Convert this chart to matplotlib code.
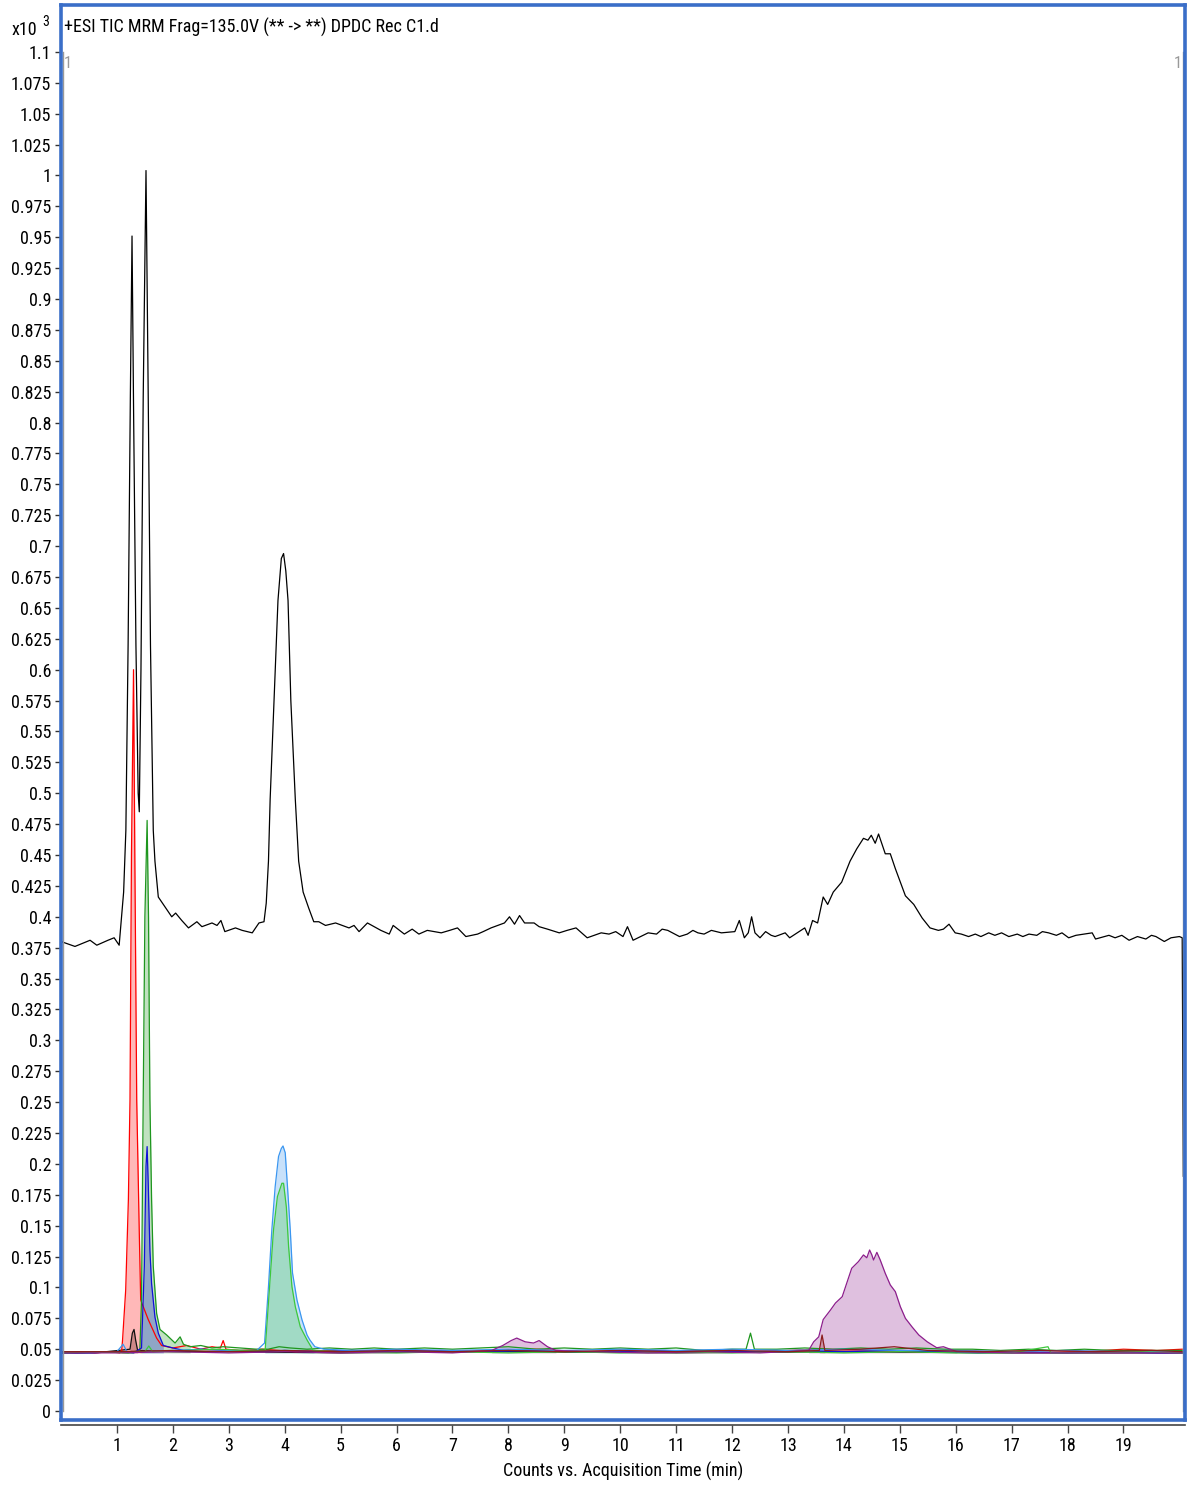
import numpy as np
import matplotlib.pyplot as plt

plt.rcParams['font.family'] = ['Liberation Sans Narrow', 'Arial Narrow', 'Roboto Condensed',
                               'Archivo Narrow', 'DejaVu Sans']

# TIC (x10^3 counts) vs acquisition time (min)
tic = [(0, 0.380), (0.25, 0.376), (0.52, 0.381), (0.64, 0.377), (0.84, 0.381), (0.95, 0.383),
       (1.04, 0.377), (1.12, 0.420), (1.16, 0.470), (1.20, 0.620), (1.24, 0.820), (1.27, 0.951),
       (1.30, 0.800), (1.34, 0.620), (1.38, 0.500), (1.40, 0.485), (1.43, 0.600), (1.47, 0.820),
       (1.52, 1.004), (1.56, 0.820), (1.60, 0.620), (1.65, 0.470), (1.68, 0.445), (1.74, 0.416),
       (1.86, 0.408), (1.98, 0.400), (2.05, 0.403), (2.16, 0.397), (2.28, 0.391), (2.43, 0.396),
       (2.52, 0.392), (2.70, 0.395), (2.79, 0.393), (2.86, 0.397), (2.93, 0.388), (3.12, 0.391),
       (3.24, 0.389), (3.42, 0.387), (3.54, 0.395), (3.63, 0.396), (3.67, 0.411), (3.71, 0.445),
       (3.74, 0.495), (3.81, 0.575), (3.88, 0.656), (3.94, 0.690), (3.98, 0.694), (4.02, 0.680),
       (4.06, 0.656), (4.11, 0.575), (4.19, 0.495), (4.25, 0.445), (4.33, 0.420), (4.43, 0.407),
       (4.52, 0.396), (4.61, 0.396), (4.73, 0.393), (4.91, 0.395), (5.15, 0.391), (5.24, 0.393),
       (5.33, 0.388), (5.48, 0.395), (5.60, 0.392), (5.72, 0.389), (5.87, 0.386), (5.94, 0.393),
       (6.14, 0.386), (6.28, 0.390), (6.40, 0.386), (6.55, 0.389), (6.67, 0.388), (6.80, 0.387),
       (6.95, 0.389), (7.09, 0.391), (7.24, 0.384), (7.45, 0.386), (7.55, 0.388), (7.69, 0.391),
       (7.93, 0.395), (8.02, 0.400), (8.11, 0.394), (8.20, 0.401), (8.29, 0.395), (8.46, 0.395),
       (8.55, 0.392), (8.70, 0.390), (8.91, 0.387), (9.05, 0.389), (9.21, 0.391), (9.41, 0.383),
       (9.66, 0.387), (9.80, 0.386), (9.92, 0.388), (10.05, 0.384), (10.13, 0.392), (10.23, 0.381),
       (10.50, 0.387), (10.65, 0.386), (10.75, 0.390), (10.85, 0.389), (11.06, 0.384), (11.20, 0.386),
       (11.30, 0.389), (11.39, 0.387), (11.50, 0.386), (11.63, 0.389), (11.81, 0.387), (12.05, 0.388),
       (12.13, 0.397), (12.22, 0.383), (12.29, 0.387), (12.35, 0.400), (12.41, 0.387), (12.50, 0.383),
       (12.60, 0.388), (12.70, 0.385), (12.77, 0.384), (12.95, 0.387), (13.03, 0.383), (13.30, 0.391),
       (13.36, 0.385), (13.44, 0.397), (13.53, 0.395), (13.63, 0.416), (13.71, 0.410), (13.81, 0.420),
       (13.96, 0.428), (14.11, 0.445), (14.23, 0.455), (14.35, 0.4635), (14.43, 0.462), (14.49, 0.466),
       (14.56, 0.4595), (14.62, 0.467), (14.74, 0.451), (14.83, 0.451), (14.92, 0.439), (15.10, 0.417),
       (15.25, 0.410), (15.40, 0.399), (15.54, 0.391), (15.69, 0.389), (15.78, 0.390), (15.88, 0.394),
       (15.99, 0.387), (16.10, 0.386), (16.23, 0.384), (16.35, 0.386), (16.45, 0.384), (16.59, 0.387),
       (16.70, 0.385), (16.82, 0.387), (16.95, 0.384), (17.10, 0.386), (17.20, 0.384), (17.31, 0.386),
       (17.45, 0.385), (17.55, 0.388), (17.66, 0.387), (17.80, 0.385), (17.90, 0.387), (18.02, 0.383),
       (18.15, 0.385), (18.30, 0.386), (18.44, 0.387), (18.50, 0.382), (18.74, 0.385), (18.85, 0.383),
       (18.97, 0.385), (19.10, 0.381), (19.25, 0.384), (19.40, 0.382), (19.50, 0.385), (19.58, 0.384),
       (19.73, 0.380), (19.85, 0.383), (20.00, 0.384), (20.05, 0.383), (20.07, 0.190)]

red = [(0, 0.047), (0.3, 0.048), (0.6, 0.047), (0.9, 0.048), (1.05, 0.047), (1.085, 0.049),
       (1.10, 0.057), (1.157, 0.098), (1.205, 0.171), (1.234, 0.252), (1.26, 0.450), (1.297, 0.600),
       (1.32, 0.450), (1.354, 0.252), (1.40, 0.144), (1.425, 0.090), (1.44, 0.088), (1.56, 0.074),
       (1.71, 0.059), (1.80, 0.053), (2.0, 0.051), (2.25, 0.053), (2.5, 0.050), (2.7, 0.052),
       (2.85, 0.051), (2.9, 0.057), (2.95, 0.050), (3.2, 0.049), (3.6, 0.050), (4.2, 0.048),
       (4.8, 0.049), (5.5, 0.048), (6.2, 0.049), (7.0, 0.048), (7.8, 0.049), (8.5, 0.050),
       (9.3, 0.048), (10.0, 0.049), (10.8, 0.048), (11.5, 0.049), (12.3, 0.048), (13.0, 0.049),
       (13.7, 0.050), (14.5, 0.049), (15.3, 0.048), (16.0, 0.049), (16.8, 0.048), (17.5, 0.049),
       (18.3, 0.048), (19.0, 0.050), (19.6, 0.049), (20.05, 0.050)]

green = [(0, 0.048), (0.4, 0.047), (0.8, 0.048), (1.2, 0.047), (1.41, 0.049), (1.44, 0.090),
         (1.47, 0.252), (1.50, 0.400), (1.54, 0.478), (1.565, 0.400), (1.59, 0.252), (1.62, 0.171),
         (1.65, 0.117), (1.71, 0.079), (1.77, 0.066), (1.89, 0.0615), (2.04, 0.055), (2.13, 0.060),
         (2.19, 0.054), (2.31, 0.052), (2.5, 0.053), (2.7, 0.051), (2.9, 0.052), (3.2, 0.051),
         (3.5, 0.050), (3.7, 0.050), (3.9, 0.052), (4.1, 0.051), (4.4, 0.050), (4.8, 0.051),
         (5.2, 0.050), (5.6, 0.051), (6.0, 0.050), (6.5, 0.051), (7.0, 0.050), (7.5, 0.051),
         (8.0, 0.052), (8.5, 0.050), (9.0, 0.051), (9.5, 0.050), (10.0, 0.051), (10.5, 0.050),
         (11.0, 0.051), (11.5, 0.049), (12.0, 0.050), (12.25, 0.050), (12.33, 0.063), (12.40, 0.050),
         (12.8, 0.050), (13.3, 0.051), (13.8, 0.050), (14.3, 0.051), (14.8, 0.050), (15.3, 0.051),
         (15.8, 0.050), (16.3, 0.050), (16.8, 0.049), (17.3, 0.050), (17.8, 0.049), (18.3, 0.050),
         (18.8, 0.049), (19.3, 0.049), (20.05, 0.049)]

blue = [(0, 0.047), (0.5, 0.047), (1.0, 0.048), (1.3, 0.047), (1.44, 0.051), (1.49, 0.117),
        (1.52, 0.198), (1.54, 0.214), (1.56, 0.184), (1.59, 0.130), (1.62, 0.103), (1.68, 0.076),
        (1.74, 0.063), (1.83, 0.053), (2.0, 0.051), (2.2, 0.049), (2.5, 0.050), (3.0, 0.049),
        (3.5, 0.048), (4.0, 0.049), (4.6, 0.048), (5.2, 0.049), (6.0, 0.048), (6.8, 0.049),
        (7.6, 0.048), (8.4, 0.049), (9.2, 0.048), (10.0, 0.048), (10.8, 0.049), (11.6, 0.048),
        (12.4, 0.048), (13.2, 0.049), (14.0, 0.048), (14.8, 0.049), (15.6, 0.048), (16.4, 0.047),
        (17.2, 0.048), (18.0, 0.047), (18.8, 0.048), (19.6, 0.047), (20.05, 0.047)]

skyblue = [(0, 0.048), (0.5, 0.047), (1.0, 0.048), (1.11, 0.054), (1.18, 0.048), (1.5, 0.048),
           (2.0, 0.049), (2.5, 0.050), (3.0, 0.049), (3.5, 0.049), (3.64, 0.055), (3.71, 0.1006),
           (3.77, 0.1465), (3.83, 0.1816), (3.89, 0.206), (3.94, 0.2125), (3.97, 0.2145),
           (4.01, 0.209), (4.05, 0.1816), (4.10, 0.1465), (4.14, 0.1117), (4.22, 0.0898),
           (4.31, 0.0737), (4.40, 0.0615), (4.45, 0.0575), (4.54, 0.052), (4.7, 0.050), (5.2, 0.049),
           (6.0, 0.050), (7.0, 0.049), (8.0, 0.050), (9.0, 0.049), (10.0, 0.050), (11.0, 0.049),
           (12.0, 0.050), (13.0, 0.049), (14.0, 0.050), (15.0, 0.049), (16.0, 0.049), (17.0, 0.048),
           (18.0, 0.049), (19.0, 0.048), (20.05, 0.048)]

lime = [(0, 0.047), (0.6, 0.048), (1.2, 0.047), (1.5, 0.048), (1.57, 0.0526), (1.64, 0.048),
        (2.2, 0.049), (2.8, 0.050), (3.3, 0.049), (3.65, 0.049), (3.73, 0.1006), (3.80, 0.1465),
        (3.87, 0.1735), (3.95, 0.1843), (3.98, 0.1843), (4.03, 0.165), (4.07, 0.133), (4.13, 0.1006),
        (4.19, 0.0844), (4.28, 0.068), (4.40, 0.0575), (4.51, 0.049), (5.0, 0.048), (6.0, 0.047),
        (7.0, 0.048), (8.0, 0.047), (9.0, 0.048), (10.0, 0.047), (11.0, 0.048), (12.0, 0.047),
        (13.0, 0.048), (14.0, 0.047), (15.0, 0.048), (16.0, 0.047), (17.0, 0.047), (17.65, 0.052),
        (17.7, 0.047), (18.5, 0.047), (19.3, 0.048), (20.05, 0.047)]

purple = [(0, 0.047), (1.0, 0.047), (2.0, 0.048), (3.0, 0.047), (4.0, 0.048), (5.0, 0.047),
          (6.0, 0.048), (7.0, 0.047), (7.7, 0.049), (7.9, 0.053), (8.05, 0.057), (8.15, 0.059),
          (8.3, 0.056), (8.45, 0.055), (8.55, 0.057), (8.7, 0.052), (8.85, 0.049), (9.5, 0.048),
          (10.5, 0.047), (11.5, 0.048), (12.5, 0.047), (13.37, 0.049), (13.46, 0.056), (13.55, 0.060),
          (13.63, 0.074), (13.76, 0.0817), (13.85, 0.0874), (13.97, 0.0925), (14.06, 0.1047),
          (14.14, 0.1155), (14.26, 0.1209), (14.35, 0.1263), (14.41, 0.124), (14.46, 0.1303),
          (14.50, 0.1263), (14.53, 0.1222), (14.59, 0.1284), (14.65, 0.1222), (14.74, 0.1114),
          (14.83, 0.102), (14.92, 0.0966), (15.01, 0.0844), (15.10, 0.075), (15.22, 0.068),
          (15.34, 0.0615), (15.49, 0.056), (15.66, 0.0512), (15.78, 0.052), (15.90, 0.050),
          (16.02, 0.048), (17.0, 0.047), (18.0, 0.047), (19.0, 0.047), (20.05, 0.047)]

maroon = [(0, 0.048), (1.0, 0.048), (2.0, 0.049), (3.0, 0.048), (4.0, 0.049), (5.0, 0.048),
          (6.0, 0.049), (7.0, 0.048), (8.0, 0.049), (9.0, 0.048), (10.0, 0.049), (11.0, 0.048),
          (12.0, 0.049), (13.0, 0.048), (13.56, 0.049), (13.61, 0.0615), (13.66, 0.049),
          (14.3, 0.050), (14.9, 0.052), (15.5, 0.049), (16.5, 0.048), (17.5, 0.049), (18.5, 0.048),
          (19.5, 0.049), (20.05, 0.048)]

black = [(0, 0.047), (0.6, 0.047), (1.234, 0.050), (1.276, 0.063), (1.306, 0.066), (1.336, 0.057),
         (1.37, 0.049), (2.0, 0.048), (3.0, 0.048), (5.0, 0.047), (8.0, 0.048), (11.0, 0.047),
         (14.0, 0.048), (17.0, 0.047), (20.05, 0.047)]

# integration windows (start, end) per trace
windows = {'red': [(1.085, 1.44)], 'green': [(1.41, 2.31)], 'blue': [(1.44, 1.83)],
           'skyblue': [(3.64, 4.54)], 'lime': [(3.65, 4.51)], 'purple': [(7.7, 8.85), (13.37, 16.02)],
           'maroon': [(13.56, 13.66)], 'black': [(1.234, 1.37)]}

traces = [('black', black, '#111111'), ('red', red, '#ff0000'), ('green', green, '#1e961e'),
          ('blue', blue, '#1010d8'), ('skyblue', skyblue, '#3a96f0'), ('lime', lime, '#3cc83c'),
          ('purple', purple, '#8c1e8c'), ('maroon', maroon, '#8b1c1c')]

fig = plt.figure(figsize=(11.97, 14.88), dpi=100)
ax = fig.add_axes([61 / 1197, 68 / 1488, 1124 / 1197, 1415 / 1488])
ax.set_xlim(0, 20.1)
ax.set_ylim(-0.0073, 1.138)

# filled peaks first
for name, pts, col in traces:
    t = np.array([p[0] for p in pts])
    v = np.array([p[1] for p in pts])
    for a, b in windows.get(name, []):
        m = (t >= a) & (t <= b)
        ax.fill_between(t[m], v[m], 0.047, color=col, alpha=0.28, lw=0)

for name, pts, col in traces:
    ax.plot([p[0] for p in pts], [p[1] for p in pts], color=col, lw=0.9)

ax.plot([p[0] for p in tic], [p[1] for p in tic], color='black', lw=0.9)

# cursor lines
ax.plot([0.03, 0.03], [0, 1.1], color='#999999', lw=1.0)
ax.plot([20.06, 20.06], [0, 1.1], color='#999999', lw=1.0)

for s in ax.spines.values():
    s.set_color('#3a6ec8')
    s.set_linewidth(2.6)

yt = np.arange(0, 1.1001, 0.025)
ax.set_yticks(yt)
ax.set_yticklabels([f"{v:.3f}".rstrip('0').rstrip('.') for v in yt])
ax.tick_params(axis='y', direction='out', length=4, width=1, color='#333333', pad=3, labelsize=13)
ax.set_xticks([])

sec = ax.secondary_xaxis(-0.0035)
sec.set_xticks(range(1, 20))
sec.spines['bottom'].set_color('#444444')
sec.spines['bottom'].set_linewidth(1.2)
sec.tick_params(axis='x', direction='out', length=6, width=1, color='#444444', pad=3, labelsize=13)

fig.text(623 / 1197, 1 - 1471 / 1488, 'Counts vs. Acquisition Time (min)', ha='center', va='center', fontsize=13)
fig.text(64 / 1197, 1 - 27 / 1488, '+ESI TIC MRM Frag=135.0V (** -> **) DPDC Rec C1.d', ha='left', va='center', fontsize=13)
fig.text(12 / 1197, 1 - 30 / 1488, 'x10', ha='left', va='center', fontsize=13)
fig.text(42 / 1197, 1 - 22 / 1488, '3', ha='left', va='center', fontsize=10)
fig.text(68 / 1197, 1 - 63 / 1488, '1', ha='center', va='center', fontsize=12, color='#999999')
fig.text(1178 / 1197, 1 - 63 / 1488, '1', ha='center', va='center', fontsize=12, color='#999999')

fig.savefig('out.png', dpi=100)
